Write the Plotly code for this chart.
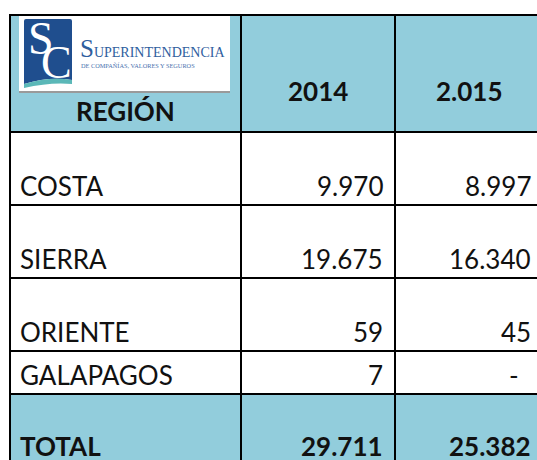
import plotly.graph_objects as go

# ---- data ----
headers = ["REGIÓN", "2014", "2.015"]
regions = ["COSTA", "SIERRA", "ORIENTE", "GALAPAGOS"]
values_2014 = [9970, 19675, 59, 7]
values_2015 = [8997, 16340, 45, 0]
total_label = "TOTAL"

# ---- layout (pixel geometry of the grid) ----
W, H = 537, 460
col_edges = [10, 241, 395, 544]
row_edges = [15, 132, 205, 278, 351, 394, 466]
HEAD_FILL = "#92CDDC"
FONT = "Lato"
FS = 26
BASE_PAD = 10  # baseline offset from row bottom


def fmt(v):
    if v == 0:
        return "-"
    return f"{v:,}".replace(",", ".")


fig = go.Figure()
fig.add_trace(go.Scatter(x=[0], y=[0], mode="markers", marker=dict(opacity=0), hoverinfo="skip", showlegend=False))

shapes = []
# fills
shapes.append(dict(type="rect", x0=col_edges[0], x1=col_edges[-1], y0=row_edges[0], y1=row_edges[1],
                   fillcolor=HEAD_FILL, line=dict(width=0), layer="below"))
shapes.append(dict(type="rect", x0=col_edges[0], x1=col_edges[-1], y0=row_edges[5], y1=row_edges[6],
                   fillcolor=HEAD_FILL, line=dict(width=0), layer="below"))
# grid lines
for yv in row_edges:
    shapes.append(dict(type="line", x0=col_edges[0] - 1, x1=col_edges[-1], y0=yv, y1=yv,
                       line=dict(color="black", width=2)))
for xv in col_edges:
    shapes.append(dict(type="line", x0=xv, x1=xv, y0=row_edges[0], y1=row_edges[-1],
                       line=dict(color="black", width=2)))

# logo
shapes.append(dict(type="rect", x0=19, x1=230, y0=16, y1=92, fillcolor="white", line=dict(width=0)))
shapes.append(dict(type="line", x0=19, x1=230, y0=92, y1=92, line=dict(color="#9a9a9a", width=2)))
shapes.append(dict(type="path", path="M 26,19 L 70,19 Q 72,19 72,21 L 72,80 Q 50,76 24,84 L 24,21 Q 24,19 26,19 Z",
                   fillcolor="#1F4E8E", line=dict(width=0)))
shapes.append(dict(type="path", path="M 24,84 Q 50,76 72,80 L 72,84 Q 50,82 24,88 Z",
                   fillcolor="#5BB8B8", line=dict(width=0)))

ann = []


def text(x, y, s, xanchor, bold=False, size=FS, color="#111111", family=FONT):
    ann.append(dict(x=x, y=y, text=f"<b>{s}</b>" if bold else s, showarrow=False,
                    xanchor=xanchor, yanchor="middle", borderpad=0,
                    font=dict(family=family, size=size, color=color)))


# logo text
text(41, 38, "S", "center", size=46, color="white", family="Liberation Serif")
text(56, 62, "C", "center", size=46, color="white", family="Liberation Serif")
ann.append(dict(x=78, y=48, text="<span style='font-size:25px'>S</span>UPERINTENDENCIA", showarrow=False,
                xanchor="left", yanchor="middle", font=dict(family="Liberation Serif", size=14, color="#2F5E9E")))
text(80, 65, "DE COMPAÑÍAS, VALORES Y SEGUROS", "left", size=6.3, color="#4A72AE", family="Liberation Serif")

# header
text((col_edges[0] + col_edges[1]) / 2, 120 - 9, headers[0], "center", bold=True)
text((col_edges[1] + col_edges[2]) / 2, 100 - 9, headers[1], "center", bold=True)
text((col_edges[2] + col_edges[3]) / 2, 100 - 9, headers[2], "center", bold=True)

# body rows
for i, reg in enumerate(regions):
    yb = row_edges[i + 2] - BASE_PAD - 9
    text(col_edges[0] + 9, yb, reg, "left")
    text(col_edges[2] - 11, yb, fmt(values_2014[i]), "right")
    v = fmt(values_2015[i])
    text(col_edges[3] - 12 - (12 if v == "-" else 0), yb, v, "right")

# total row
yt = 456 - 10
text(col_edges[0] + 9, yt, total_label, "left", bold=True)
text(col_edges[2] - 11, yt, fmt(sum(values_2014)), "right", bold=True)
text(col_edges[3] - 12, yt, fmt(sum(values_2015)), "right", bold=True)

fig.update_layout(
    width=W, height=H, margin=dict(l=0, r=0, t=0, b=0),
    paper_bgcolor="white", plot_bgcolor="white",
    xaxis=dict(range=[0, W], visible=False, fixedrange=True),
    yaxis=dict(range=[H, 0], visible=False, fixedrange=True),
    shapes=shapes, annotations=ann, showlegend=False,
)
fig.write_html(
    "out.html",
    config={"displayModeBar": False},
    post_script="document.body.style.margin='0';document.body.style.overflow='hidden';",
)
